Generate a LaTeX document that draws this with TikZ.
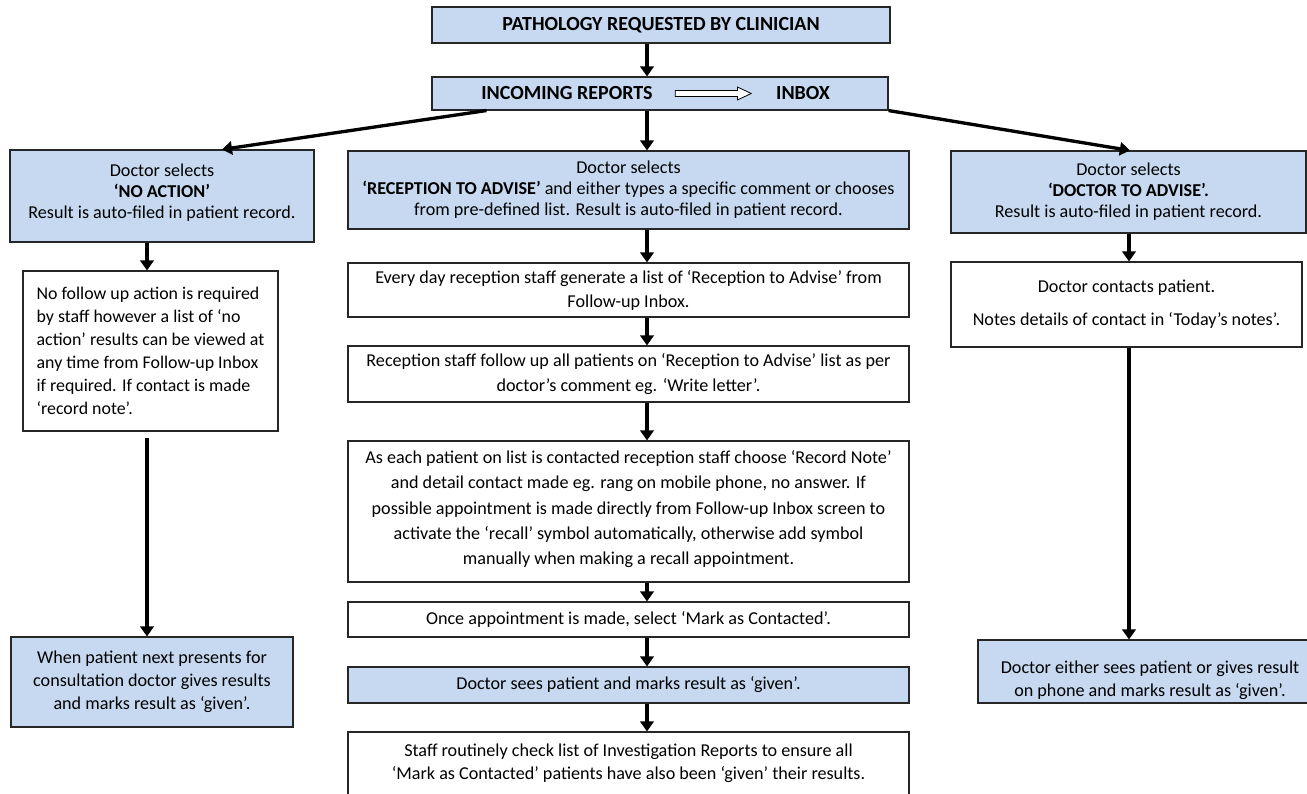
\documentclass[tikz,border=0pt]{standalone}
\usepackage{fontspec}
\setmainfont{Carlito}
\usepackage{tikz}
\usetikzlibrary{arrows.meta}
\usetikzlibrary{shapes.arrows}
\definecolor{stepblue}{RGB}{198,217,241}
\tikzset{
	box/.style={
		draw=black!85,
		line width=0.8pt,
		rectangle,
		align=center,
		inner sep=0pt,
		font=\fontsize{13.6}{15.75}\selectfont,
	},
	doctor/.style={
		box,
		fill=stepblue,
	},
	staff/.style={
		box,
		fill=white,
	},
	heading/.style={
		font=\fontsize{15}{17}\selectfont\bfseries,
	},
	flow/.style={
		line width=2.5pt,
		-{Triangle[width=10pt,length=7.5pt]},
	},
	inboxarrow/.style={
		draw,
		line width=0.6pt,
		fill=white,
		single arrow,
		single arrow head extend=2.5pt,
		single arrow tip angle=50,
		inner xsep=0pt,
		inner ysep=2pt,
		minimum height=57pt,
	},
}

\begin{document}
\begin{tikzpicture}[x=0.75pt, y=-0.75pt]
	\useasboundingbox (0,0) rectangle (1307,793);
	\clip (0,0) rectangle (1307,793);

	\coordinate (leftcol) at (147,0);
	\coordinate (midcol) at (647,0);
	\coordinate (rightcol) at (1129,0);

	\node[doctor, heading, minimum width=343.5pt, minimum height=27pt] (request) at (661,25) {PATHOLOGY REQUESTED BY CLINICIAN};
	\node[doctor, minimum width=342pt, minimum height=24.75pt] (reports) at (660,93.5) {};
	\node[heading] (incoming) at (567,93.5) {INCOMING REPORTS};
	\node[inboxarrow] (transfer) at (710,93.5) {};
	\node[heading] (inbox) at (803,93.5) {INBOX};

	\node[doctor, minimum width=228pt, minimum height=69pt] (noaction) at (162,196) {Doctor selects\\\textbf{‘NO ACTION’}\\Result is auto-filed in patient record.\\[-8pt]};
	\node[staff, align=left, minimum width=191.25pt, minimum height=120pt, font=\fontsize{13.4}{17.25}\selectfont] (nofollow) at (150.5,351) {No follow up action is required\\by staff however a list of ‘no\\action’ results can be viewed at\\any time from Follow-up Inbox\\if required. If contact is made\\‘record note’.};
	\node[doctor, minimum width=211.5pt, minimum height=67.5pt, font=\fontsize{13.6}{17.25}\selectfont] (nextvisit) at (152,682) {When patient next presents for\\consultation doctor gives results\\and marks result as ‘given’.};

	\node[doctor, minimum width=420.75pt, minimum height=58.5pt] (reception) at (628.5,190) {Doctor selects\\\textbf{‘RECEPTION TO ADVISE’} and either types a specific comment or chooses\\from pre-defined list. Result is auto-filed in patient record.};
	\node[staff, minimum width=420.75pt, minimum height=40.5pt, font=\fontsize{13.6}{18}\selectfont] (daylist) at (628.5,290) {Every day reception staff generate a list of ‘Reception to Advise’ from\\Follow-up Inbox.};
	\node[staff, minimum width=420.75pt, minimum height=42pt, font=\fontsize{13.6}{19}\selectfont] (followup) at (628.5,374) {Reception staff follow up all patients on ‘Reception to Advise’ list as per\\doctor’s comment eg. ‘Write letter’.};
	\node[staff, minimum width=420.75pt, minimum height=105.75pt, font=\fontsize{13.6}{19}\selectfont] (recordnote) at (628.5,511.5) {As each patient on list is contacted reception staff choose ‘Record Note’\\and detail contact made eg. rang on mobile phone, no answer. If\\possible appointment is made directly from Follow-up Inbox screen to\\activate the ‘recall’ symbol automatically, otherwise add symbol\\manually when making a recall appointment.\\[-13pt]};
	\node[staff, minimum width=420.75pt, minimum height=26.25pt] (contacted) at (628.5,619.5) {Once appointment is made, select ‘Mark as Contacted’.};
	\node[doctor, minimum width=420.75pt, minimum height=27pt] (seen) at (628.5,685) {Doctor sees patient and marks result as ‘given’.};
	\node[staff, minimum width=420.75pt, minimum height=47.25pt, font=\fontsize{13.6}{17.25}\selectfont] (check) at (628.5,763.5) {Staff routinely check list of Investigation Reports to ensure all\\‘Mark as Contacted’ patients have also been ‘given’ their results.};

	\node[doctor, minimum width=266.25pt, minimum height=61.5pt] (docadvise) at (1128.5,192) {Doctor selects\\\textbf{‘DOCTOR TO ADVISE’.}\\Result is auto-filed in patient record.};
	\node[staff, minimum width=263.25pt, minimum height=63.75pt] (contact) at (1126.5,304.5) {Doctor contacts patient.\\[9pt]Notes details of contact in ‘Today’s notes’.};
	\node[doctor, minimum width=258pt, minimum height=47.25pt, font=\fontsize{13.6}{17.25}\selectfont] (given) at (1150,671.5) {Doctor either sees patient or gives result\\on phone and marks result as ‘given’.\\[-28pt]};

	\draw[flow] (request.south -| midcol) -- (reports.north -| midcol);
	\draw[flow] (reports.south -| midcol) -- (reception.north -| midcol);
	\draw[flow] ([xshift=41.25pt]reports.south west) -- ([xshift=45pt]noaction.north);
	\draw[flow] (reports.south east) -- ([xshift=1pt]docadvise.north);

	\draw[flow] (noaction.south -| leftcol) -- (nofollow.north -| leftcol);
	\draw[flow] ([yshift=-5pt]nofollow.south -| leftcol) -- (nextvisit.north -| leftcol);

	\draw[flow] (reception.south -| midcol) -- (daylist.north -| midcol);
	\draw[flow] (daylist.south -| midcol) -- (followup.north -| midcol);
	\draw[flow] (followup.south -| midcol) -- (recordnote.north -| midcol);
	\draw[flow] (recordnote.south -| midcol) -- (contacted.north -| midcol);
	\draw[flow] (contacted.south -| midcol) -- (seen.north -| midcol);
	\draw[flow] (seen.south -| midcol) -- (check.north -| midcol);

	\draw[flow] (docadvise.south -| rightcol) -- (contact.north -| rightcol);
	\draw[flow] (contact.south -| rightcol) -- (given.north -| rightcol);
\end{tikzpicture}
\end{document}
